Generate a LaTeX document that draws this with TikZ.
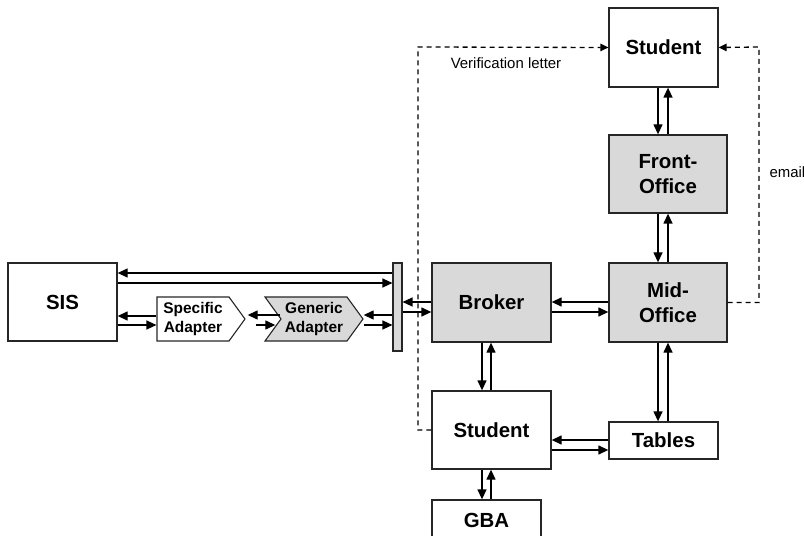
\documentclass[tikz,border=0pt]{standalone}
\usepackage{fontspec}
\setmainfont{Liberation Sans}
\usetikzlibrary{arrows.meta,shapes.symbols,calc}

\begin{document}
\begin{tikzpicture}[x=1bp, y=-1bp,
    box/.style={draw=black!85, line width=1.3bp, inner sep=0pt, align=center,
        font=\fontsize{20.5}{25}\selectfont\bfseries},
    office/.style={box, fill=gray!30},
    adapter/.style={draw=black!85, line width=1.1bp, signal, signal pointer angle=108,
        inner sep=0pt, minimum height=44bp, align=center,
        font=\fontsize{15.5}{18.5}\selectfont\bfseries},
    arr/.style={-{Triangle[length=10bp,width=9bp]}, line width=1.3bp},
    note/.style={-{Triangle[length=8bp,width=7.5bp]}, line width=1.3bp, dash pattern=on 5bp off 4bp},
    small/.style={font=\fontsize{15}{18}\selectfont}]
    \useasboundingbox (0,0) rectangle (804,536);

    % Left side: SIS and the adapters
    \node[box, minimum width=109bp, minimum height=78bp] (sis) at (62.5,302) {SIS};
    \node[draw=black!85, fill=gray!30, line width=1.1bp, inner sep=0pt,
        minimum width=9bp, minimum height=88bp] (bar) at (397.5,307) {};
    \node[adapter, signal to=east, minimum width=88bp] (spec) at (193,319) {Specific\\Adapter};
    \node[adapter, fill=gray!30, signal from=west, signal to=east, minimum width=98bp]
        (gen) at (314,319) {Generic\\Adapter};

    % Offices
    \node[office, minimum width=119bp, minimum height=79bp] (broker) at (491.5,302.5) {Broker};
    \node[office, minimum width=118bp, minimum height=79bp] (mid) at (668,302.5) {Mid-\\Office};
    \node[office, minimum width=118bp, minimum height=78bp] (front) at (668,174) {Front-\\Office};

    % Plain boxes
    \node[box, minimum width=109bp, minimum height=79bp] (stutop) at (663.5,47.5) {Student};
    \node[box, minimum width=119bp, minimum height=78bp] (stubot) at (491.5,430) {Student};
    \node[box, minimum width=109bp, minimum height=37bp] (tables) at (663.5,440.5) {Tables};
    \node[box, minimum width=109bp, minimum height=40bp] (gba) at (486.5,520) {GBA};

    % SIS <-> bar and adapters
    \draw[arr] (bar.west |- 0,273) -- (sis.east |- 0,273);
    \draw[arr] (sis.east |- 0,283) -- (bar.west |- 0,283);
    \draw[arr] (spec.west |- 0,316) -- (sis.east |- 0,316);
    \draw[arr] (sis.east |- 0,325) -- (spec.west |- 0,325);
    \draw[arr] (gen.west |- 0,315) -- ($(spec.east |- 0,315)+(2,0)$);
    \draw[arr] ($(spec.east |- 0,325)+(10,0)$) -- ($(gen.west |- 0,325)+(-5,0)$);
    \draw[arr] (bar.west |- 0,315) -- (gen.east |- 0,315);
    \draw[arr] (gen.east |- 0,325) -- (bar.west |- 0,325);

    % Broker links
    \draw[arr] (broker.west |- 0,302) -- (bar.east |- 0,302);
    \draw[arr] (bar.east |- 0,312) -- (broker.west |- 0,312);
    \draw[arr] (mid.west |- 0,302) -- (broker.east |- 0,302);
    \draw[arr] (broker.east |- 0,312) -- (mid.west |- 0,312);
    \draw[arr] (broker.south -| 482,0) -- (stubot.north -| 482,0);
    \draw[arr] (stubot.north -| 491,0) -- (broker.south -| 491,0);

    % Office column
    \draw[arr] (stutop.south -| 658,0) -- (front.north -| 658,0);
    \draw[arr] (front.north -| 668,0) -- (stutop.south -| 668,0);
    \draw[arr] (front.south -| 658,0) -- (mid.north -| 658,0);
    \draw[arr] (mid.north -| 668,0) -- (front.south -| 668,0);
    \draw[arr] (mid.south -| 658,0) -- (tables.north -| 658,0);
    \draw[arr] (tables.north -| 668,0) -- (mid.south -| 668,0);

    % Student <-> Tables, GBA
    \draw[arr] (tables.west |- 0,440) -- (stubot.east |- 0,440);
    \draw[arr] (stubot.east |- 0,450) -- (tables.west |- 0,450);
    \draw[arr] (stubot.south -| 482,0) -- (gba.north -| 482,0);
    \draw[arr] (gba.north -| 491,0) -- (stubot.south -| 491,0);

    % Dashed notices
    \draw[note] (stubot.west) -| (418,47) -- (stutop.west);
    \node[small] (letter) at (506,63) {Verification letter};
    \draw[note] (mid.east) -| (759,47) -- (stutop.east);
    \node[small, anchor=west] (email) at (766,172) {email};

\end{tikzpicture}
\end{document}
